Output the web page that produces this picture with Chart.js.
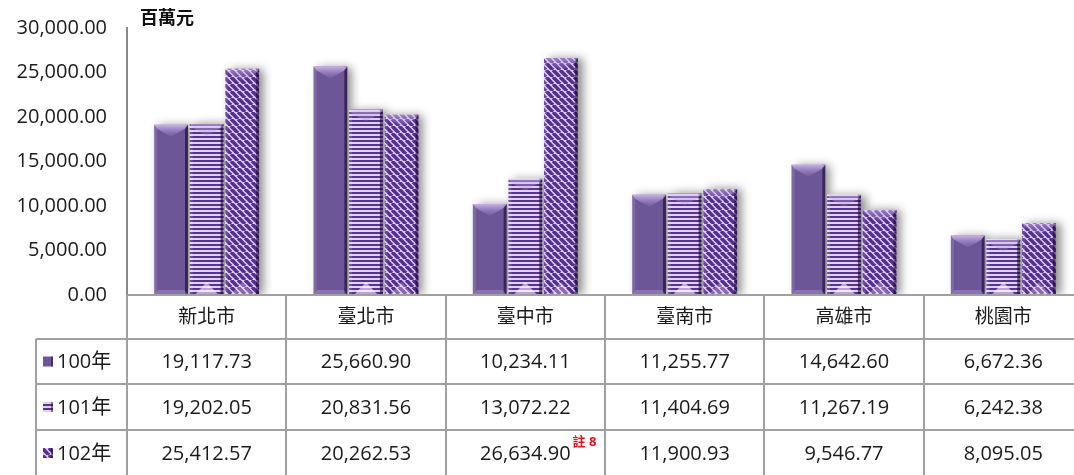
<!DOCTYPE html>
<html>
<head>
<meta charset="utf-8">
<script src="https://cdn.jsdelivr.net/npm/chart.js@4.4.0/dist/chart.umd.min.js"></script>
<style>
  html, body { margin: 0; padding: 0; overflow: hidden; background: #fff; }
  #wrap { width: 1083px; height: 475px; }
</style>
</head>
<body>
<div id="wrap"><canvas id="barChart" width="1083" height="475"></canvas></div>
<script>
// chart data
const cities = ["新北市", "臺北市", "臺中市", "臺南市", "高雄市", "桃園市"];
const years = ["100年", "101年", "102年"];
const values100 = [19117.73, 25660.90, 10234.11, 11255.77, 14642.60, 6672.36];
const values101 = [19202.05, 20831.56, 13072.22, 11404.69, 11267.19, 6242.38];
const values102 = [25412.57, 20262.53, 26634.90, 11900.93, 9546.77, 8095.05];
const yMax = 30000;
const yStep = 5000;
const unitLabel = "百萬元";
const noteLabel = "註 8";
const noteCell = [2, 2]; // [series, city]

const FONT = "'Open Sans', 'Noto Sans CJK TC', sans-serif";

function fmt(v) {
  return v.toLocaleString("en-US", { minimumFractionDigits: 2, maximumFractionDigits: 2 });
}

// fill patterns
function makePattern(kind) {
  const c = document.createElement("canvas");
  const g = c.getContext("2d");
  if (kind === "solid") {
    c.width = 4; c.height = 4;
    g.fillStyle = "#6d5697";
    g.fillRect(0, 0, 4, 4);
  } else if (kind === "hstripe") {
    c.width = 4; c.height = 4;
    g.fillStyle = "#e2cff4";
    g.fillRect(0, 0, 4, 4);
    g.fillStyle = "#55368c";
    g.fillRect(0, 0, 4, 2);
  } else {
    c.width = 7; c.height = 7;
    g.fillStyle = "#e0cdf2";
    g.fillRect(0, 0, 7, 7);
    g.strokeStyle = "#53308f";
    g.lineWidth = 3.6;
    [-7, 0, 7].forEach(k => {
      g.beginPath();
      g.moveTo(k, 0);
      g.lineTo(k + 7, 7);
      g.stroke();
    });
  }
  return document.getElementById("barChart").getContext("2d").createPattern(c, "repeat");
}

const fills = [makePattern("solid"), makePattern("hstripe"), makePattern("diag")];

// soft shadow behind bars plus bevel highlights on top
const shadowPlugin = {
  id: "barShadow",
  beforeDatasetsDraw(chart) {
    const ctx = chart.ctx;
    const a = chart.chartArea;
    ctx.save();
    ctx.beginPath();
    ctx.rect(a.left + 1, a.top - 10, a.right - a.left, a.bottom - a.top + 9);
    ctx.clip();
    ctx.shadowColor = "rgba(0,0,0,0.45)";
    ctx.shadowBlur = 9;
    ctx.shadowOffsetX = 5;
    ctx.fillStyle = "#fff";
    chart.data.datasets.forEach((ds, di) => {
      chart.getDatasetMeta(di).data.forEach(bar => {
        const p = bar.getProps(["x", "y", "base", "width"], true);
        ctx.fillRect(p.x - p.width / 2, p.y, p.width, p.base - p.y);
      });
    });
    ctx.restore();
  },
  afterDatasetsDraw(chart) {
    const ctx = chart.ctx;
    chart.data.datasets.forEach((ds, di) => {
      chart.getDatasetMeta(di).data.forEach(bar => {
        const p = bar.getProps(["x", "y", "base", "width"], true);
        const l = p.x - p.width / 2, r = p.x + p.width / 2, t = p.y, b = p.base, cx = p.x;
        const h = b - t;
        ctx.save();
        // left light / right dark edges
        ctx.fillStyle = "rgba(255,255,255,0.13)";
        ctx.fillRect(l, t, 3, h);
        ctx.fillStyle = "rgba(25,5,50,0.6)";
        ctx.fillRect(r - 3, t, 3, h);
        // top chevron
        const tv = Math.min(12, h / 2);
        const gt = ctx.createLinearGradient(0, t, 0, t + tv);
        gt.addColorStop(0, di === 0 ? "rgba(215,195,245,0.85)" : "rgba(230,215,250,0.5)");
        gt.addColorStop(1, "rgba(150,120,200,0.2)");
        ctx.fillStyle = gt;
        ctx.beginPath();
        ctx.moveTo(l, t);
        ctx.lineTo(r, t);
        ctx.lineTo(r - 3, t + 4);
        ctx.lineTo(cx, t + tv);
        ctx.lineTo(l + 3, t + 4);
        ctx.closePath();
        ctx.fill();
        // bottom bevel
        if (di === 0) {
          ctx.fillStyle = "rgba(170,150,210,0.45)";
          ctx.beginPath();
          ctx.moveTo(l, b);
          ctx.lineTo(l + 4, b - 5);
          ctx.lineTo(r - 4, b - 5);
          ctx.lineTo(r, b);
          ctx.closePath();
          ctx.fill();
        } else {
          ctx.fillStyle = di === 1 ? "rgba(255,240,255,0.6)" : "rgba(255,240,255,0.3)";
          ctx.beginPath();
          ctx.moveTo(l + 5, b);
          ctx.lineTo(cx, b - Math.min(13, h / 2));
          ctx.lineTo(r - 5, b);
          ctx.closePath();
          ctx.fill();
        }
        ctx.restore();
      });
    });
  }
};

// data table under the chart
const tablePlugin = {
  id: "dataTable",
  afterDraw(chart) {
    const ctx = chart.ctx;
    const a = chart.chartArea;
    const W = chart.width;
    const catW = (a.right - a.left) / cities.length;
    const rowLines = [a.bottom, 339, 384, 430, 476];
    const legendLeft = 36;
    const series = [values100, values101, values102];

    ctx.save();
    ctx.strokeStyle = "#a0a0a0";
    ctx.lineWidth = 2;
    ctx.beginPath();
    ctx.moveTo(a.left, rowLines[0]);
    ctx.lineTo(W, rowLines[0]);
    for (let i = 1; i < 4; i++) {
      ctx.moveTo(legendLeft, rowLines[i]);
      ctx.lineTo(W, rowLines[i]);
    }
    ctx.moveTo(legendLeft, rowLines[1]);
    ctx.lineTo(legendLeft, 475);
    for (let i = 0; i <= cities.length; i++) {
      const x = Math.round(a.left + i * catW);
      ctx.moveTo(x, rowLines[0]);
      ctx.lineTo(x, 475);
    }
    ctx.stroke();

    ctx.fillStyle = "#1a1a1a";
    ctx.textBaseline = "middle";
    ctx.textAlign = "center";
    ctx.font = "19px " + FONT;
    cities.forEach((c, i) => {
      ctx.fillText(c, a.left + (i + 0.5) * catW, (rowLines[0] + rowLines[1]) / 2 + 1);
    });

    series.forEach((vals, si) => {
      const cy = (rowLines[si + 1] + rowLines[si + 2]) / 2 + 1;
      // legend key
      ctx.fillStyle = fills[si];
      ctx.fillRect(43, cy - 6, 10, 10);
      ctx.fillStyle = "rgba(30,10,60,0.5)";
      ctx.fillRect(51, cy - 6, 2, 10);
      ctx.fillStyle = "#1a1a1a";
      ctx.textAlign = "left";
      ctx.font = "20px " + FONT;
      ctx.fillText(years[si], 57, cy);
      ctx.textAlign = "center";
      vals.forEach((v, i) => {
        const cx = a.left + (i + 0.5) * catW;
        const txt = fmt(v);
        ctx.font = "20px " + FONT;
        ctx.fillStyle = "#1a1a1a";
        ctx.fillText(txt, cx, cy);
        if (si === noteCell[0] && i === noteCell[1]) {
          const tw = ctx.measureText(txt).width;
          ctx.font = "bold 13px " + FONT;
          ctx.fillStyle = "#e8141b";
          ctx.textAlign = "left";
          ctx.fillText(noteLabel, cx + tw / 2 + 2, cy - 12);
          ctx.textAlign = "center";
        }
      });
    });

    // unit label
    ctx.font = "bold 18px " + FONT;
    ctx.fillStyle = "#111";
    ctx.textAlign = "left";
    ctx.fillText(unitLabel, 140, 19);
    ctx.restore();
  }
};

const ctx = document.getElementById("barChart").getContext("2d");

new Chart(ctx, {
  type: "bar",
  data: {
    labels: cities,
    datasets: [
      { label: years[0], data: values100, backgroundColor: fills[0] },
      { label: years[1], data: values101, backgroundColor: fills[1] },
      { label: years[2], data: values102, backgroundColor: fills[2] },
    ],
  },
  options: {
    responsive: false,
    animation: false,
    devicePixelRatio: 1,
    layout: { padding: { top: 28, bottom: 180, left: 0, right: 0 } },
    categoryPercentage: 0.67,
    barPercentage: 0.95,
    scales: {
      x: { display: false },
      y: {
        min: 0,
        max: yMax,
        afterFit(scale) { scale.width = 127; },
        grid: { display: false },
        border: { display: true, color: "#8a8a8a", width: 2 },
        ticks: {
          stepSize: yStep,
          padding: 12,
          color: "#1a1a1a",
          font: { family: FONT, size: 20 },
          callback: v => fmt(v),
        },
      },
    },
    plugins: {
      legend: { display: false },
      tooltip: { enabled: false },
    },
  },
  plugins: [shadowPlugin, tablePlugin],
});
</script>
</body>
</html>
